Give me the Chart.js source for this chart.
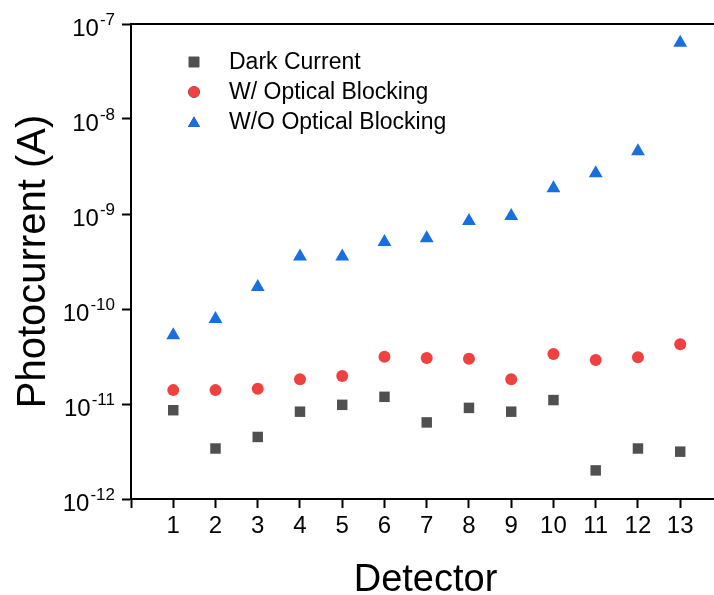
<!DOCTYPE html>
<html>
<head>
<meta charset="utf-8">
<script src="https://cdn.jsdelivr.net/npm/chart.js@4"></script>
<style>
  html, body { margin: 0; padding: 0; background: #fff; }
  #wrap { width: 714px; height: 595px; position: relative; }
</style>
</head>
<body>
<div id="wrap"><canvas id="photocurrentChart"></canvas></div>
<script>
// values
var detectors = [1, 2, 3, 4, 5, 6, 7, 8, 9, 10, 11, 12, 13];
var darkCurrent = [8.6e-12, 3.4e-12, 4.5e-12, 8.3e-12, 9.8e-12, 1.19e-11, 6.4e-12, 9.1e-12, 8.3e-12, 1.1e-11, 2.0e-12, 3.4e-12, 3.15e-12];
var withBlocking = [1.40e-11, 1.40e-11, 1.45e-11, 1.82e-11, 1.97e-11, 3.15e-11, 3.05e-11, 3.0e-11, 1.82e-11, 3.36e-11, 2.9e-11, 3.1e-11, 4.25e-11];
var withoutBlocking = [5.3e-11, 7.85e-11, 1.7e-10, 3.56e-10, 3.57e-10, 5.07e-10, 5.55e-10, 8.44e-10, 9.5e-10, 1.87e-9, 2.68e-9, 4.57e-9, 6.35e-8];
var seriesLabels = ["Dark Current", "W/ Optical Blocking", "W/O Optical Blocking"];
var xTicks = [0, 1, 2, 3, 4, 5, 6, 7, 8, 9, 10, 11, 12, 13];
var yTicks = [1e-12, 1e-11, 1e-10, 1e-9, 1e-8, 1e-7];
var yExponents = ["-12", "-11", "-10", "-9", "-8", "-7"];

var FONT = '"Liberation Sans", Arial, sans-serif';
Chart.defaults.font.family = FONT;
Chart.defaults.color = "#000";

function toPoints(vals) {
  return vals.map(function (v, i) { return { x: detectors[i], y: v }; });
}

// draws top frame line, y tick labels with superscripts, axis titles and the legend
var decorations = {
  id: "decorations",
  afterDraw: function (chart) {
    var ctx = chart.ctx;
    var area = chart.chartArea;
    var yScale = chart.scales.y;
    ctx.save();

    // top frame line
    ctx.strokeStyle = "#000";
    ctx.lineWidth = 2;
    ctx.beginPath();
    ctx.moveTo(area.left - 1, area.top);
    ctx.lineTo(area.right, area.top);
    ctx.stroke();

    // y tick labels: 10^n
    ctx.fillStyle = "#000";
    ctx.textBaseline = "alphabetic";
    ctx.textAlign = "right";
    yTicks.forEach(function (v, i) {
      var y = yScale.getPixelForValue(v);
      var right = area.left - 16;
      ctx.font = "17px " + FONT;
      var expW = ctx.measureText(yExponents[i]).width;
      ctx.fillText(yExponents[i], right, y + 1);
      ctx.font = "24px " + FONT;
      ctx.fillText("10", right - expW - 1, y + 12);
    });

    // axis titles
    ctx.font = "40px " + FONT;
    ctx.textAlign = "center";
    ctx.textBaseline = "alphabetic";
    ctx.save();
    ctx.translate(45, (area.top + area.bottom) / 2);
    ctx.rotate(-Math.PI / 2);
    ctx.fillText("Photocurrent (A)", 0, 0);
    ctx.restore();
    ctx.font = "38px " + FONT;
    ctx.fillText("Detector", (area.left + area.right) / 2 + 3, 591);

    // legend
    ctx.font = "23px " + FONT;
    ctx.textAlign = "left";
    ctx.textBaseline = "middle";
    chart.data.datasets.forEach(function (ds, i) {
      var ly = area.top + 38 + i * 30;
      var lx = area.left + 63;
      var r;
      if (ds.pointStyle === "triangle") r = 7;
      else if (ds.pointStyle === "circle") r = 5.8;
      else r = 7.4;
      Chart.helpers.drawPoint(ctx, {
        pointStyle: ds.pointStyle, radius: r, rotation: 0, borderWidth: 0
      }, lx, ly + (ds.pointStyle === "triangle" ? 1.5 : 0));
      ctx.fillStyle = ds.backgroundColor;
      ctx.fill();
      ctx.fillStyle = "#000";
      ctx.fillText(ds.label, area.left + 98, ly + 1);
    });
    ctx.restore();
  }
};

new Chart("photocurrentChart", {
  type: "scatter",
  data: {
    datasets: [
      { label: seriesLabels[0], data: toPoints(darkCurrent), pointStyle: "rect", pointRadius: 7.4, backgroundColor: "#505050", borderWidth: 0 },
      { label: seriesLabels[1], data: toPoints(withBlocking), pointStyle: "circle", pointRadius: 6, backgroundColor: "#f04141", borderWidth: 0 },
      { label: seriesLabels[2], data: toPoints(withoutBlocking), pointStyle: "triangle", pointRadius: 8, backgroundColor: "#1a6fdf", borderWidth: 0 }
    ]
  },
  options: {
    responsive: true,
    maintainAspectRatio: false,
    animation: false,
    layout: { autoPadding: false, padding: { top: 24, right: 0, left: 0, bottom: 0 } },
    plugins: { legend: { display: false }, tooltip: { enabled: false } },
    scales: {
      x: {
        type: "linear",
        min: 0,
        max: 13.8,
        afterBuildTicks: function (s) { s.ticks = xTicks.map(function (v) { return { value: v }; }); },
        afterFit: function (s) { s.height = 96; s.paddingRight = 0; s.paddingLeft = 0; },
        ticks: {
          callback: function (v) { return v === 0 ? "" : String(v); },
          font: { size: 24 },
          color: "#000",
          padding: 4,
          maxRotation: 0,
          autoSkip: false
        },
        grid: { drawOnChartArea: false, tickLength: 9, tickWidth: 2, tickColor: "#000", color: "#000" },
        border: { color: "#000", width: 2 }
      },
      y: {
        type: "logarithmic",
        min: 1e-12,
        max: 1e-7,
        afterBuildTicks: function (s) { s.ticks = yTicks.map(function (v) { return { value: v }; }); },
        afterFit: function (s) { s.width = 131; s.paddingTop = 0; s.paddingBottom = 0; },
        ticks: { callback: function () { return ""; }, padding: 0 },
        grid: { drawOnChartArea: false, tickLength: 9, tickWidth: 2, tickColor: "#000", color: "#000" },
        border: { color: "#000", width: 2 }
      }
    }
  },
  plugins: [decorations]
});
</script>
</body>
</html>
